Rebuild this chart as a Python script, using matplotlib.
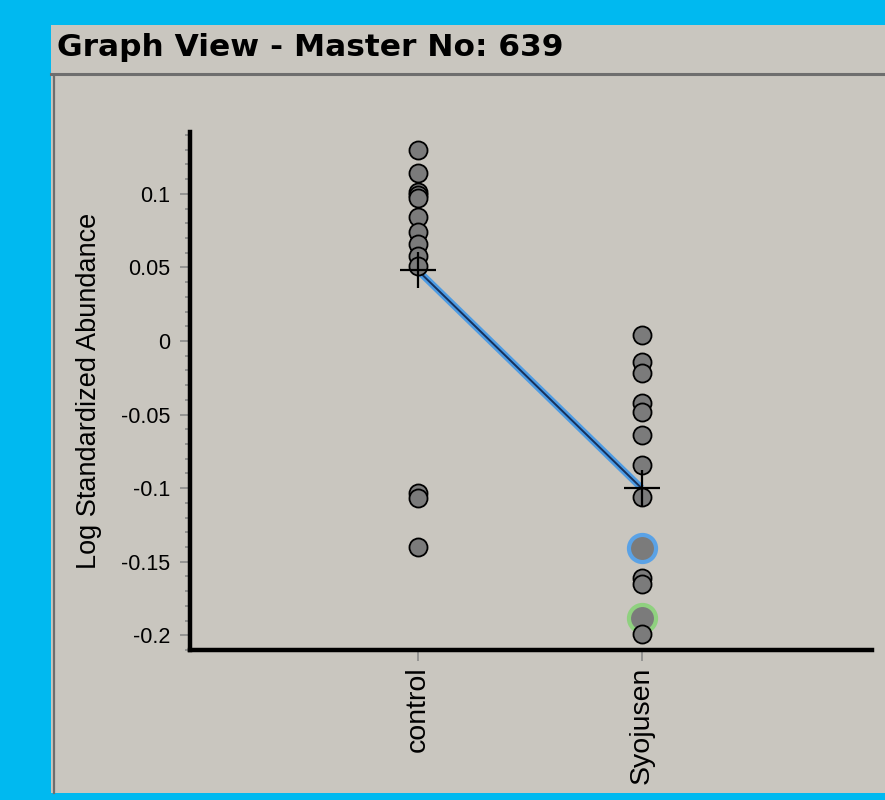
import matplotlib
matplotlib.use("Agg")
import matplotlib.pyplot as plt
from matplotlib.patches import Rectangle
from matplotlib.lines import Line2D

# sample values per group (log standardized abundance)
categories = ["control", "Syojusen"]
control_vals = [0.130, 0.114, 0.101, 0.099, 0.097, 0.084, 0.074, 0.066,
                0.058, 0.051, -0.103, -0.107, -0.140]
syojusen_vals = [0.004, -0.014, -0.022, -0.042, -0.048, -0.064, -0.084,
                 -0.106, -0.161, -0.165, -0.199]
# two highlighted Syojusen spots
blue_spot = -0.141
green_spot = -0.188
group_means = [0.048, -0.100]

yticks = [-0.2, -0.15, -0.1, -0.05, 0, 0.05, 0.1]
ytick_labels = ["-0.2", "-0.15", "-0.1", "-0.05", "0", "0.05", "0.1"]

BG_BLUE = "#00b9f0"
PANEL = "#c9c6bf"
DOT = "#7b7b7b"

W, H = 885, 800
fig = plt.figure(figsize=(W / 100, H / 100), dpi=100, facecolor=BG_BLUE)

# window panel, title strip and borders (figure pixel coords)
def fx(px):
    return px / W

def fy(py):
    return 1 - py / H

fig.patches.append(Rectangle((fx(51), fy(793)), fx(885) - fx(51), fy(25) - fy(793),
                             transform=fig.transFigure, facecolor=PANEL,
                             edgecolor="none", zorder=-5))
fig.lines.append(Line2D([fx(51), fx(885)], [fy(74), fy(74)], transform=fig.transFigure,
                        color="#6e6e6e", lw=2.2, zorder=-4))
fig.lines.append(Line2D([fx(53.5), fx(53.5)], [fy(75), fy(793)], transform=fig.transFigure,
                        color="#6e6e6e", lw=1.6, zorder=-4))
fig.text(fx(57), fy(47), "Graph View - Master No: 639", fontsize=22.5,
         fontweight="bold", family="DejaVu Sans",
         color="black", ha="left", va="center")

ax = fig.add_axes([fx(190), fy(650), fx(872) - fx(190), fy(132) - fy(650)])
ax.set_facecolor("none")
ax.set_zorder(2)

xs = [1, 2]

# mean trend line: light blue halo with dark core
ax.plot(xs, group_means, color="#4d9be3", lw=5, solid_capstyle="butt", zorder=2)
ax.plot(xs, group_means, color="#17305a", lw=1.4, zorder=3)

# highlighted spots
ax.plot([2], [blue_spot], "o", ms=19.5, mfc=DOT, mec="#5aa2e6", mew=3.0, zorder=4)
ax.plot([2], [green_spot], "o", ms=19.5, mfc=DOT, mec="#8fd17f", mew=3.0, zorder=4)

# individual samples
ax.plot([1] * len(control_vals), control_vals, "o", ms=13, mfc=DOT,
        mec="black", mew=1.3, zorder=5)
ax.plot([2] * len(syojusen_vals), syojusen_vals, "o", ms=13, mfc=DOT,
        mec="black", mew=1.3, zorder=5)

# group means as crosses
ax.plot(xs, group_means, "+", ms=26, mew=1.6, color="black", zorder=6)

ax.set_xlim(-0.018, 3.03)
ax.set_ylim(-0.210, 0.142)

for side in ["top", "right"]:
    ax.spines[side].set_visible(False)
for side in ["left", "bottom"]:
    ax.spines[side].set_linewidth(3.2)
    ax.spines[side].set_color("black")

ax.set_yticks(yticks)
ax.set_yticklabels(ytick_labels, fontsize=15.5, family="Liberation Sans")
ax.set_yticks([v / 100 for v in range(-21, 15)], minor=True)
ax.tick_params(axis="y", which="major", length=7, width=1.2, color="#8a8a8a", pad=7)
ax.tick_params(axis="y", which="minor", length=3.5, width=1.2, color="#8a8a8a")

ax.set_xticks(xs)
ax.set_xticklabels(categories, rotation=90, fontsize=20.5, family="Liberation Sans")
ax.tick_params(axis="x", length=8, width=1.2, color="#8a8a8a", pad=4)

ax.set_ylabel("Log Standardized Abundance", fontsize=19.5, family="Liberation Sans",
              labelpad=14)

fig.savefig("out.png", dpi=100, facecolor=BG_BLUE)
